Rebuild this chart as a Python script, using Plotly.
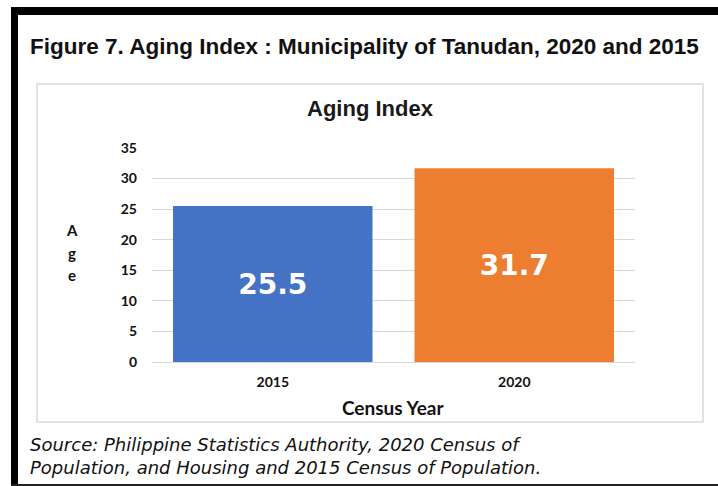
import plotly.graph_objects as go

# ---- data ----
years = ["2015", "2020"]
aging_index = [25.5, 31.7]
bar_colors = ["#4472C4", "#ED7D31"]
y_ticks = [0, 5, 10, 15, 20, 25, 30, 35]

fig_title = "Figure 7. Aging Index : Municipality of Tanudan, 2020 and 2015"
chart_title = "Aging Index"
x_title = "Census Year"
y_title_letters = ["A", "g", "e"]
source_text = ("Source: Philippine Statistics Authority, 2020 Census of<br>"
               "Population, and Housing and 2015 Census of Population.")

# ---- layout geometry (pixels) ----
W, H = 718, 486
L, R, T, B = 152, 635, 148, 362  # plot area


def px(x):
    return (x - L) / (R - L)


def py(y):
    return (B - y) / (B - T)


fig = go.Figure(
    go.Bar(
        x=years,
        y=aging_index,
        marker=dict(color=bar_colors, line=dict(width=0)),
        texttemplate="%{y:.1f}",
        textposition="inside",
        insidetextanchor="middle",
        textangle=0,
        textfont=dict(family="DejaVu Sans", size=28, color="white", weight="bold"),
        cliponaxis=False,
    )
)

shapes = [
    # black frame
    dict(type="rect", xref="paper", yref="paper", x0=px(11), x1=px(718), y0=py(7), y1=py(15),
         fillcolor="black", line=dict(width=0), layer="above"),
    dict(type="rect", xref="paper", yref="paper", x0=px(11), x1=px(18), y0=py(7), y1=py(486),
         fillcolor="black", line=dict(width=0), layer="above"),
    dict(type="rect", xref="paper", yref="paper", x0=px(11), x1=px(718), y0=py(484), y1=py(486),
         fillcolor="#222222", line=dict(width=0), layer="above"),
    # light chart box
    dict(type="rect", xref="paper", yref="paper", x0=px(37), x1=px(703), y0=py(84), y1=py(422),
         fillcolor="rgba(0,0,0,0)", line=dict(color="#d9d9d9", width=1.5), layer="below"),
]

annotations = [
    dict(text=fig_title, xref="paper", yref="paper", x=px(28), y=py(46),
         xanchor="left", yanchor="middle", showarrow=False,
         font=dict(family="Arial", size=22.5, color="#111111", weight="bold")),
    dict(text=chart_title, xref="paper", yref="paper", x=px(370), y=py(108),
         xanchor="center", yanchor="middle", showarrow=False,
         font=dict(family="Arial", size=22, color="#1a1a1a", weight="bold")),
    dict(text=x_title, xref="paper", yref="paper", x=px(393), y=py(407),
         xanchor="center", yanchor="middle", showarrow=False,
         font=dict(family="Lato", size=19, color="#111111", weight="bold")),
    dict(text=source_text, xref="paper", yref="paper", x=px(28), y=py(456),
         xanchor="left", yanchor="middle", align="left", showarrow=False,
         font=dict(family="DejaVu Sans", size=18, color="#111111", style="italic")),
]
for i, ch in enumerate(y_title_letters):
    annotations.append(
        dict(text=ch, xref="paper", yref="paper", x=px(72), y=py(230 + 22.5 * i),
             xanchor="center", yanchor="middle", showarrow=False,
             font=dict(family="Lato", size=15, color="#111111", weight="bold"))
    )

fig.update_layout(
    width=W, height=H,
    margin=dict(l=L, r=W - R, t=T, b=H - B, pad=0),
    paper_bgcolor="white", plot_bgcolor="white",
    bargap=0.174,
    showlegend=False,
    shapes=shapes,
    annotations=annotations,
    font=dict(family="Lato", color="#111111"),
)
fig.update_yaxes(
    range=[0, 35], tickvals=y_ticks, showgrid=True, gridcolor="#d9d9d9", gridwidth=1,
    zeroline=True, zerolinecolor="#d9d9d9", zerolinewidth=1, showline=False,
    ticks="", ticklabelstandoff=14,
    tickfont=dict(family="Lato", size=14, color="#111111", weight="bold"),
)
fig.update_xaxes(
    showline=False, showgrid=False, ticks="", ticklabelstandoff=10,
    tickfont=dict(family="Lato", size=14, color="#111111", weight="bold"),
)

fig.write_html(
    "out.html",
    config={"displayModeBar": False},
    post_script="document.body.style.margin='0';document.body.style.overflow='hidden';",
)
